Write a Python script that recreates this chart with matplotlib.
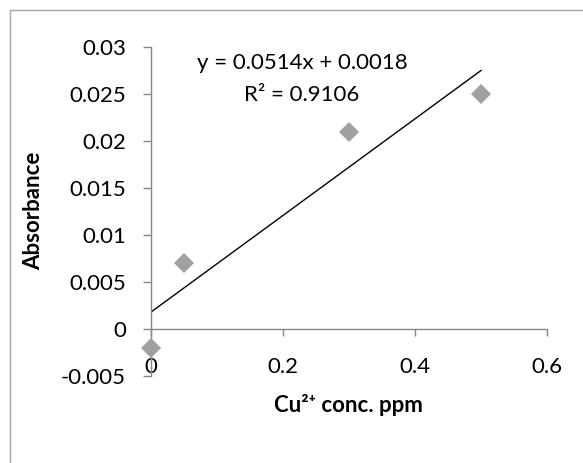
import matplotlib
matplotlib.use('Agg')
import matplotlib.pyplot as plt
from matplotlib.patches import Rectangle

# data
conc = [0.0, 0.05, 0.3, 0.5]
absorbance = [-0.002, 0.007, 0.021, 0.025]
slope = 0.0514
intercept = 0.0018
r_squared = 0.9106
x_ticks = [0, 0.2, 0.4, 0.6]
y_ticks = [-0.005, 0, 0.005, 0.01, 0.015, 0.02, 0.025, 0.03]

plt.rcParams['font.family'] = ['Lato', 'DejaVu Sans']

W, H = 583, 463
FS = 16
fig = plt.figure(figsize=(W / 100, H / 100), dpi=100)
ax = fig.add_axes([151 / W, 1 - 376 / H, (547 - 151) / W, (376 - 47) / H])

axis_grey = '#868686'

# trendline
x_line = [0, max(conc)]
y_line = [slope * x + intercept for x in x_line]
ax.plot(x_line, y_line, color='black', lw=1.0, zorder=2)

# points
ax.plot(conc, absorbance, linestyle='none', marker='D', markersize=10,
        color='#A0A0A0', markeredgewidth=0, zorder=3, clip_on=False)

ax.set_xlim(0, 0.6)
ax.set_ylim(-0.005, 0.03)
ax.set_xticks(x_ticks)
ax.set_xticklabels(['0', '0.2', '0.4', '0.6'])
ax.set_yticks(y_ticks)
ax.set_yticklabels(['-0.005', '0', '0.005', '0.01', '0.015', '0.02', '0.025', '0.03'])

ax.spines['top'].set_visible(False)
ax.spines['right'].set_visible(False)
ax.spines['bottom'].set_position(('data', 0))
for s in ['left', 'bottom']:
    ax.spines[s].set_color(axis_grey)
    ax.spines[s].set_linewidth(1.0)
ax.tick_params(axis='y', direction='out', length=6, width=1, color=axis_grey,
               pad=12, labelsize=FS, labelcolor='black')
ax.tick_params(axis='x', direction='out', length=5, width=1, color=axis_grey,
               pad=15, labelsize=FS, labelcolor='black')
ax.set_facecolor('none')

fig.text(34 / W, 1 - 211 / H, 'Absorbance', rotation=90, ha='center', va='center',
         fontsize=FS, fontweight='bold')
fig.text(348 / W, 1 - 405 / H, 'Cu²⁺ conc. ppm', ha='center', va='center',
         fontsize=FS, fontweight='bold')

fig.text(302 / W, 1 - 63 / H, 'y = %.4fx + %.4f' % (slope, intercept),
         ha='center', va='center', fontsize=FS)
fig.text(302 / W, 1 - 95 / H, 'R² = %.4f' % r_squared,
         ha='center', va='center', fontsize=FS)

# chart area border (right and bottom edges are cut off in the reference)
fig.patches.append(Rectangle((10 / W, -0.1), 1.2, 1 - 10 / H + 0.1, fill=False,
                             edgecolor='#A6A6A6', lw=1.0, transform=fig.transFigure))

fig.savefig('out.png', dpi=100)
